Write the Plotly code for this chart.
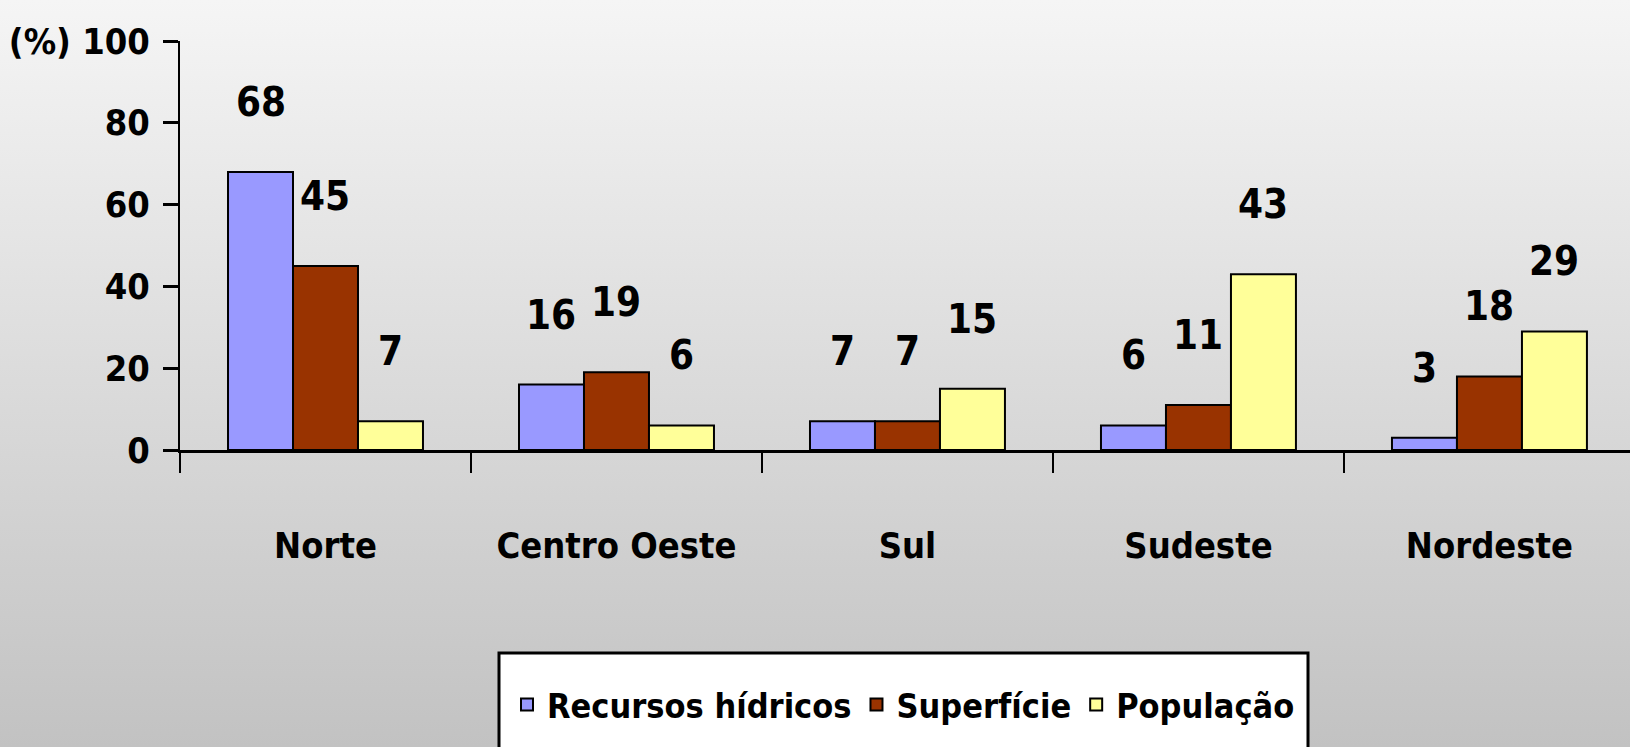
import base64
import plotly.graph_objects as go

categories = ["Norte", "Centro Oeste", "Sul", "Sudeste", "Nordeste"]
recursos_hidricos = [68, 16, 7, 6, 3]
superficie = [45, 19, 7, 11, 18]
populacao = [7, 6, 15, 43, 29]
series_names = ["Recursos hídricos", "Superfície", "População"]
y_tickvals = [0, 20, 40, 60, 80, 100]
y_ticktext = ["0", "20", "40", "60", "80", "(%) 100"]

W, H = 1630, 747
FONT = "DejaVu Sans Condensed, Roboto, sans-serif"
colors = ["#9999FF", "#993300", "#FFFF99"]

x_dom = [180 / W, 1.0]
y_dom = [(H - 450) / H, (H - 41) / H]
x_range = [-0.5, 4.483]
bargap = 0.33

# background gradient as an SVG image
svg = ('<svg xmlns="http://www.w3.org/2000/svg" width="100" height="100" preserveAspectRatio="none">'
       '<defs><linearGradient id="g" x1="0" y1="0" x2="0" y2="1">'
       '<stop offset="0" stop-color="#f5f5f5"/><stop offset="1" stop-color="#c2c2c2"/>'
       '</linearGradient></defs><rect width="100" height="100" fill="url(#g)"/></svg>')
bg_src = "data:image/svg+xml;base64," + base64.b64encode(svg.encode()).decode()

fig = go.Figure()
all_series = [recursos_hidricos, superficie, populacao]
for name, vals, col in zip(series_names, all_series, colors):
    fig.add_trace(go.Bar(
        x=categories, y=vals, name=name,
        marker=dict(color=col, line=dict(color="black", width=2)),
    ))

# value labels above bars
plot_w_px = (x_dom[1] - x_dom[0]) * W
cat_px = plot_w_px / (x_range[1] - x_range[0])
bar_px = cat_px * (1 - bargap) / 3
annotations = []
for i, vals in enumerate(all_series):
    for c, v in zip(categories, vals):
        annotations.append(dict(
            x=c, y=v, xref="x", yref="y", text=str(v), showarrow=False,
            xshift=(i - 1) * bar_px, yshift=70, yanchor="middle",
            font=dict(family=FONT, size=40, color="black", weight="bold"),
        ))

fig.update_layout(
    width=W, height=H,
    margin=dict(l=0, r=0, t=0, b=0),
    paper_bgcolor="#d8d8d8",
    plot_bgcolor="rgba(0,0,0,0)",
    barmode="group", bargap=bargap, bargroupgap=0,
    font=dict(family=FONT, size=40, color="black", weight="bold"),
    images=[dict(source=bg_src, xref="paper", yref="paper", x=0, y=1,
                 sizex=1, sizey=1, xanchor="left", yanchor="top",
                 sizing="stretch", layer="below")],
    shapes=[dict(type="rect", xref="paper", yref="paper",
                 x0=499 / W, x1=1308 / W, y0=-0.05, y1=(H - 653) / H,
                 fillcolor="white", line=dict(color="black", width=3),
                 layer="below")],
    xaxis=dict(
        domain=x_dom, range=x_range, type="category",
        showline=True, linecolor="black", linewidth=3,
        ticks="outside", tickson="boundaries", ticklen=20, tickwidth=2,
        tickcolor="black", showgrid=False, zeroline=False,
        ticklabelstandoff=62, automargin=False,
        tickfont=dict(family=FONT, size=36, weight="bold"),
    ),
    yaxis=dict(
        domain=y_dom, range=[0, 100],
        tickvals=y_tickvals, ticktext=y_ticktext,
        showline=True, linecolor="black", linewidth=2,
        ticks="outside", ticklen=15, tickwidth=3, tickcolor="black",
        showgrid=False, zeroline=False, automargin=False,
        ticklabelstandoff=6,
        tickfont=dict(family=FONT, size=36, weight="bold"),
    ),
    legend=dict(
        orientation="h", x=(499 + 1308) / 2 / W, xanchor="center",
        y=(H - 705) / H, yanchor="middle",
        bgcolor="rgba(0,0,0,0)", borderwidth=0,
        font=dict(family=FONT, size=34, color="black", weight="bold"),
        itemsizing="constant", traceorder="normal",
    ),
    annotations=annotations,
    showlegend=True,
)

fig.write_html(
    "out.html",
    config={"displayModeBar": False},
    post_script="document.body.style.margin='0';document.body.style.overflow='hidden';",
)
